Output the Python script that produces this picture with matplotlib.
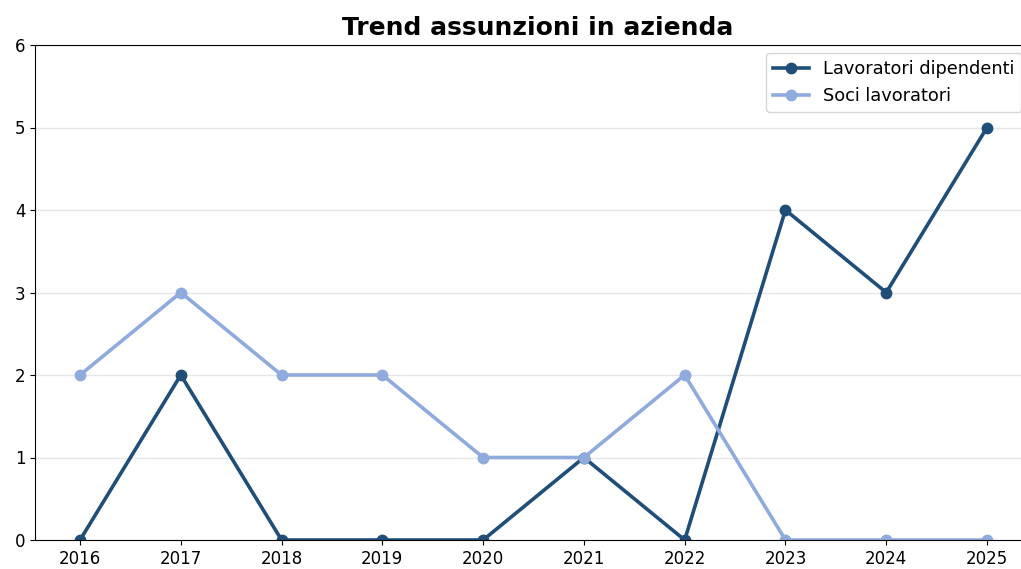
import matplotlib
matplotlib.use("Agg")
import matplotlib.pyplot as plt

anni = [2016, 2017, 2018, 2019, 2020, 2021, 2022, 2023, 2024, 2025]
dipendenti = [0, 2, 0, 0, 0, 1, 0, 4, 3, 5]
soci = [2, 3, 2, 2, 1, 1, 2, 0, 0, 0]

fig = plt.figure(figsize=(10.21, 5.69), dpi=100)
# l'asse continua oltre il bordo destro (immagine ritagliata)
ax = fig.add_axes([35 / 1021, 29 / 569, 1005 / 1021, 495 / 569])

ax.plot(anni, dipendenti, color="#1f4e79", linewidth=2.6, marker="o", markersize=7.5,
        label="Lavoratori dipendenti")
ax.plot(anni, soci, color="#8faadc", linewidth=2.6, marker="o", markersize=7.5,
        label="Soci lavoratori")

ax.set_xlim(2015.553, 2025.526)
ax.set_ylim(0, 6)
ax.set_xticks(anni)
ax.tick_params(labelsize=12)
ax.spines["right"].set_visible(False)
ax.grid(axis="y", color="#e6e6e6", linewidth=1)
ax.set_axisbelow(True)
ax.set_title("Trend assunzioni in azienda", fontsize=18, fontweight="bold", pad=7)
ax.legend(loc="upper left", bbox_to_anchor=(0.7274, 0.984), borderaxespad=0, fontsize=12.8)

fig.savefig("out.png", dpi=100)
